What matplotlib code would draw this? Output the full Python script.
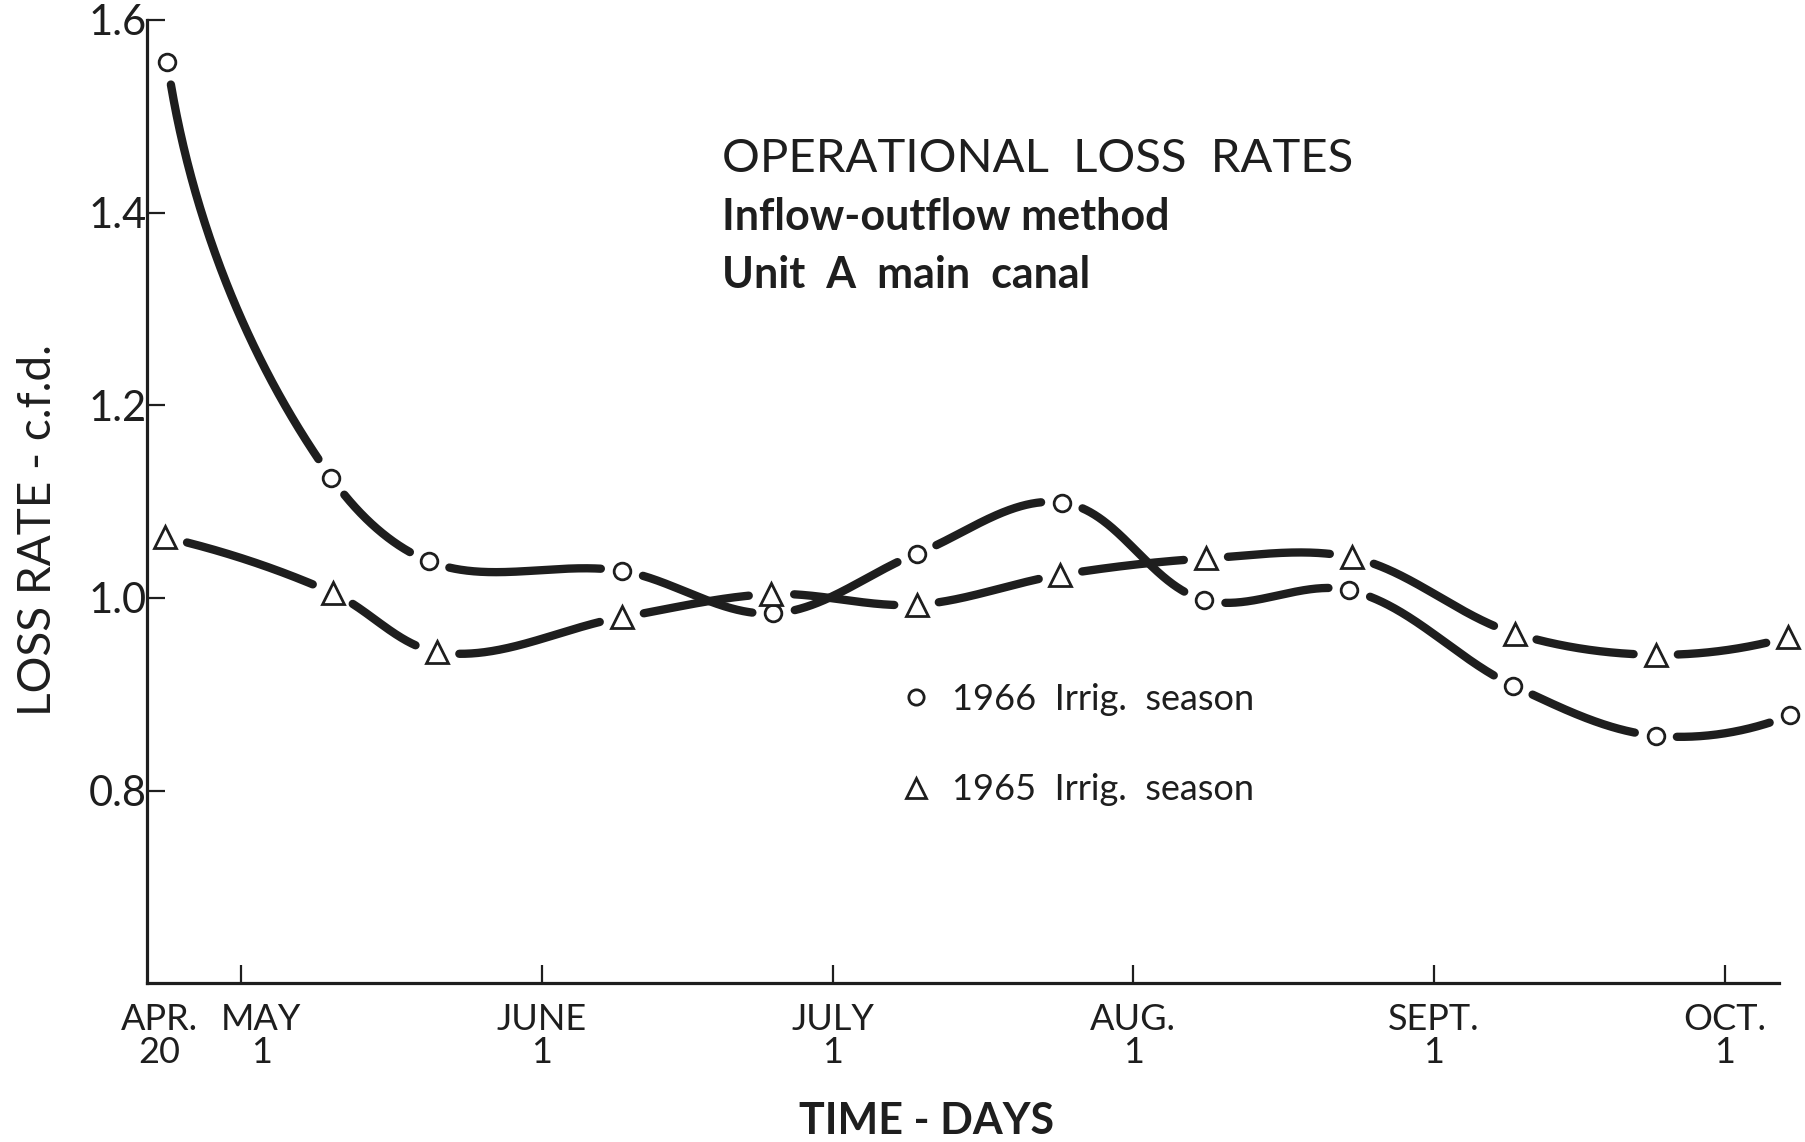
import numpy as np
import matplotlib
matplotlib.use('Agg')
import matplotlib.pyplot as plt
from matplotlib.lines import Line2D
from matplotlib.transforms import ScaledTranslation

plt.rcParams['font.family'] = ['Lato', 'DejaVu Sans']
INK = '#1e1e1e'

# day of year (Apr 20 = 110) and loss rate in c.f.d.
days_1966 = [113.4, 130.3, 140.4, 160.3, 175.9, 190.7, 205.7, 220.3, 235.3, 252.2, 266.9, 280.7]
loss_1966 = [1.556, 1.125, 1.038, 1.028, 0.984, 1.046, 1.099, 0.998, 1.008, 0.909, 0.857, 0.878]
days_1965 = [113.2, 130.5, 141.2, 160.3, 175.7, 190.7, 205.5, 220.5, 235.6, 252.4, 266.9, 280.5]
loss_1965 = [1.063, 1.005, 0.944, 0.980, 1.004, 0.993, 1.024, 1.041, 1.042, 0.963, 0.941, 0.959]

month_days = [121, 152, 182, 213, 244, 274]
month_labels = ['MAY\n1', 'JUNE\n1', 'JULY\n1', 'AUG.\n1', 'SEPT.\n1', 'OCT.\n1']
y_ticks = [0.8, 1.0, 1.2, 1.4, 1.6]
y_labels = ['0.8', '1.0', '1.2', '1.4', '1.6']


def french_curve(P, n=200):
    # smooth hermite path through the points, worked out on screen
    # so the steep drop bends the way a drafting curve would
    seg = np.diff(P, axis=0)
    L = np.hypot(seg[:, 0], seg[:, 1])
    u = seg / L[:, None]
    T = np.zeros_like(P)
    for i in range(1, len(P) - 1):
        v = u[i - 1] + u[i]
        T[i] = v / np.hypot(*v)
    for i, j, k in [(0, 0, 1), (-1, -1, -2)]:
        v = 2 * u[j] - T[k]
        T[i] = v / np.hypot(*v)
    t = np.linspace(0, 1, n)[:, None]
    h00 = 2 * t**3 - 3 * t**2 + 1
    h10 = t**3 - 2 * t**2 + t
    h01 = -2 * t**3 + 3 * t**2
    h11 = t**3 - t**2
    out = [h00 * P[i] + h10 * L[i] * T[i] + h01 * P[i + 1] + h11 * L[i] * T[i + 1]
           for i in range(len(P) - 1)]
    return np.vstack(out)


fig = plt.figure(figsize=(18.06, 11.42), dpi=100)
ax = fig.add_axes([0.0814, 0.139, 0.9036, 0.8435])
ax.set_xlim(111.3, 279.6)
ax.set_ylim(0.6, 1.6)

series = [(days_1966, loss_1966, 'o', 12, 21),
          (days_1965, loss_1965, '^', 16, 22)]
for xs, ys, mk, ms, gap in series:
    pts = ax.transData.transform(np.column_stack([xs, ys]))
    pix = french_curve(pts)
    # break the line around its own points, like the inked original
    dist = np.min(np.hypot(pix[:, None, 0] - pts[None, :, 0],
                           pix[:, None, 1] - pts[None, :, 1]), axis=1)
    xy = ax.transData.inverted().transform(pix)
    xy[dist < gap] = np.nan
    ax.plot(xy[:, 0], xy[:, 1], color=INK, lw=6.0, solid_capstyle='round',
            zorder=2, clip_on=False)
    ax.plot(xs, ys, ls='none', marker=mk, ms=ms, mfc='white',
            mec=INK, mew=2.0, zorder=4, clip_on=False)

for s in ['top', 'right']:
    ax.spines[s].set_visible(False)
for s in ['left', 'bottom']:
    ax.spines[s].set_linewidth(2.3)
    ax.spines[s].set_color(INK)

ax.set_yticks(y_ticks, y_labels, fontsize=30)
ax.set_xticks(month_days, month_labels, fontsize=26, linespacing=1.0)
ax.set_xticks([112.6], ['APR.\n20'], minor=True, fontsize=26,
              linespacing=1.0)
ax.tick_params(axis='both', which='major', direction='in', length=13,
               width=1.6, color=INK, labelcolor=INK)
ax.tick_params(axis='x', which='both', pad=14)
ax.tick_params(axis='x', which='minor', length=0, labelcolor=INK)
ax.tick_params(axis='y', pad=0)
# MAY sits a little right of its tick in the original, clear of APR.
may = ax.get_xticklabels()[0]
may.set_transform(may.get_transform() +
                  ScaledTranslation(0.2, 0, fig.dpi_scale_trans))

ax.set_xlabel('TIME - DAYS', fontsize=31, fontweight='bold', color=INK)
ax.xaxis.set_label_coords(0.478, -0.122)
ax.set_ylabel('LOSS RATE - c.f.d.', fontsize=33, color=INK)
ax.yaxis.set_label_coords(-0.054, 0.47)

fig.text(0.400, 0.861, 'OPERATIONAL  LOSS  RATES', fontsize=34,
         va='center', color=INK)
fig.text(0.400, 0.810, 'Inflow-outflow method', fontsize=31,
         fontweight='bold', va='center', color=INK)
fig.text(0.400, 0.759, 'Unit  A  main  canal', fontsize=31,
         fontweight='bold', va='center', color=INK)

handles = [Line2D([], [], ls='none', marker='o', ms=11, mfc='white',
                  mec=INK, mew=2.0),
           Line2D([], [], ls='none', marker='^', ms=15, mfc='white',
                  mec=INK, mew=2.0)]
ax.legend(handles, ['1966  Irrig.  season', '1965  Irrig.  season'],
          loc='upper left', bbox_to_anchor=(0.460, 0.312), frameon=False,
          fontsize=26, handlelength=1.0, handletextpad=0.5,
          labelspacing=1.6, borderpad=0, borderaxespad=0,
          labelcolor=INK)

fig.savefig('out.png', dpi=100, facecolor='white')
